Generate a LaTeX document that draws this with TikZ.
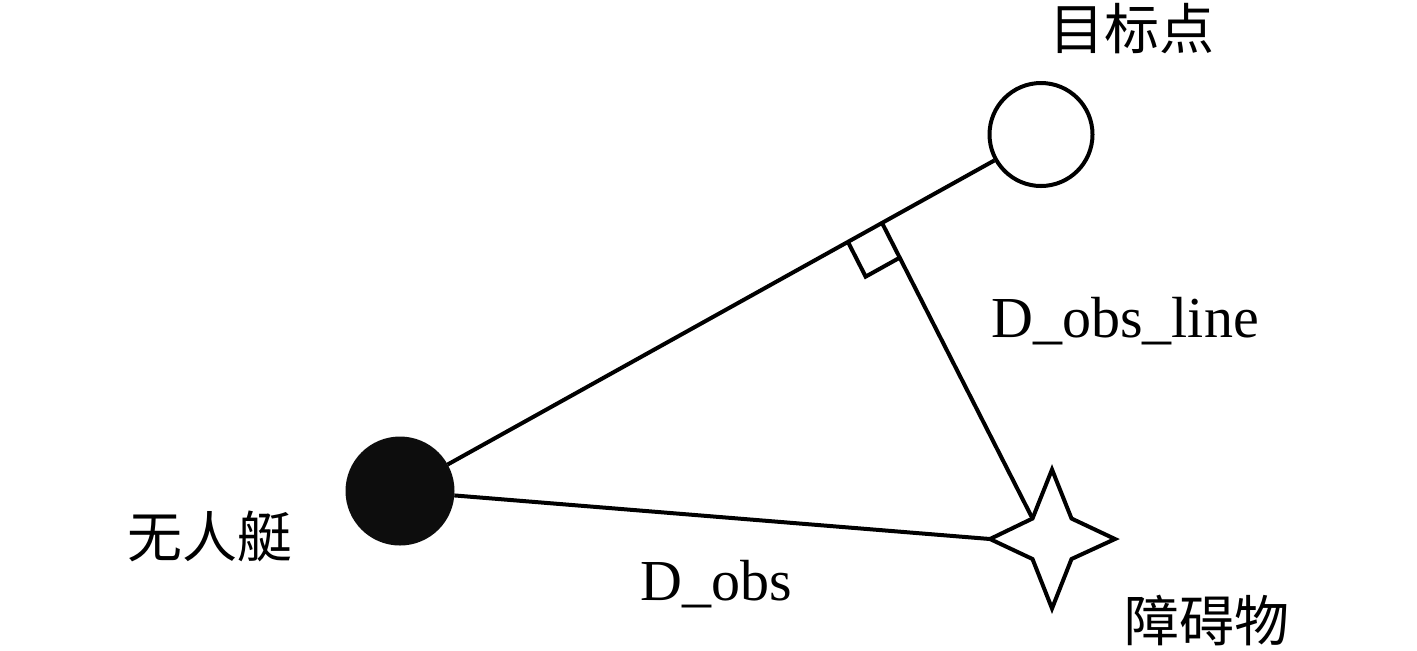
\documentclass[tikz,border=0pt]{standalone}
\usepackage{fontspec}
\setmainfont{Liberation Serif}
\newfontfamily\cjk{Noto Sans CJK SC}
\usetikzlibrary{calc}
\begin{document}
\begin{tikzpicture}[x=0.5pt,y=-0.5pt,
  ln/.style={line width=2pt,black},
  lbl/.style={font=\fontsize{29pt}{31pt}\selectfont,inner sep=0pt},
  cjklbl/.style={font=\cjk\fontsize{27.5pt}{30pt}\selectfont,inner sep=0pt}]
\useasboundingbox (0,0) rectangle (1417,650);
% boat and target
\node[circle,fill=black!95,draw=black!95,line width=1pt,minimum size=53.5pt,inner sep=0pt] (boat) at (400,491) {};
\node[circle,draw=black,line width=2pt,fill=white,minimum size=51.5pt,inner sep=0pt] (target) at (1041,134.5) {};
% obstacle star
\coordinate (obs) at (1052,539);
\coordinate (obsT) at ($(obs)+(0,-69.5)$);
\coordinate (obsR) at ($(obs)+(63,0)$);
\coordinate (obsB) at ($(obs)+(0,69.5)$);
\coordinate (obsL) at ($(obs)+(-62,0)$);
\coordinate (obsTL) at ($(obs)+(-19.5,-20.5)$);
\coordinate (obsTR) at ($(obs)+(19.5,-20.5)$);
\coordinate (obsBR) at ($(obs)+(19.5,20)$);
\coordinate (obsBL) at ($(obs)+(-19.5,20)$);
\draw[ln,line join=miter] (obsT) -- (obsTR) -- (obsR) -- (obsBR) -- (obsB) -- (obsBL) -- (obsL) -- (obsTL) -- cycle;
% connectors
\draw[ln] (boat) -- (target);
\draw[ln] (boat) -- (obsL);
\coordinate (foot) at ($(boat)!0.752!(target)$);
\draw[ln] (foot) -- (obsTL);
% right angle marker
\coordinate (ra) at ($(foot)!19.5pt!(boat)$);
\coordinate (rb) at ($(foot)!19.5pt!(obsTL)$);
\draw[ln] (ra) -- ($(ra)+(rb)-(foot)$) -- (rb);
% labels
\node[cjklbl] (tlbl) at (1132,29) {目标点};
\node[cjklbl] (blbl) at (210,536) {无人艇};
\node[cjklbl] (olbl) at (1207,620) {障碍物};
\node[lbl,anchor=base west] (dline) at (991,337) {D\_obs\_line};
\node[lbl,anchor=base west] (dobs) at (640,600) {D\_obs};
\end{tikzpicture}
\end{document}
